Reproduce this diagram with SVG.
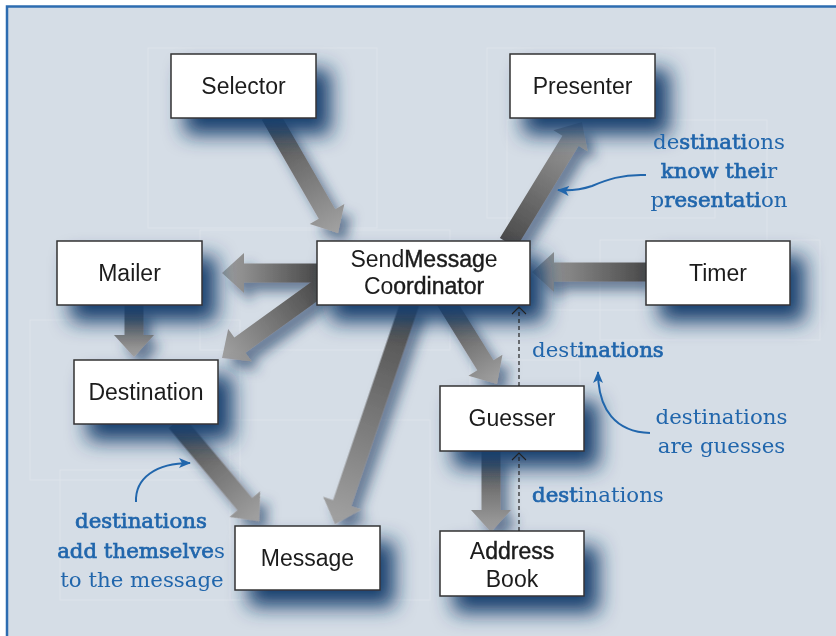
<svg xmlns="http://www.w3.org/2000/svg" width="836" height="636" viewBox="0 0 836 636">
<defs>
<style>
.box{fill:#fff;stroke:#333;stroke-width:1.5;filter:url(#bsh)}
.lbl{font-family:"Liberation Sans",Arial,sans-serif;font-size:23px;fill:#1c1c1c;text-anchor:middle}
.sb{stroke:#1c1c1c;stroke-width:0.45}
.ann{font-family:"DejaVu Serif","Liberation Serif",serif;font-size:21.3px;fill:#2166ac}
.ab{stroke:#2166ac;stroke-width:0.7}
.blk{fill:url(#ag)}
.dash{fill:none;stroke:#222;stroke-width:1.2;stroke-dasharray:4 3}
.chev{fill:none;stroke:#222;stroke-width:1.1}
.curve{fill:none;stroke:#2166ac;stroke-width:2;marker-end:url(#bh)}
.grid{fill:none;stroke:#e1e6ec;stroke-width:1;opacity:0.7}
</style>
<linearGradient id="ag" x1="0" y1="0" x2="1" y2="0">
<stop offset="0" stop-color="#4a4a4a"/>
<stop offset="1" stop-color="#a2a2a2"/>
</linearGradient>
<filter id="bsh" x="-40%" y="-60%" width="200%" height="260%">
<feGaussianBlur in="SourceAlpha" stdDeviation="10"/>
<feOffset dx="14" dy="16" result="b"/>
<feFlood flood-color="#18406e" flood-opacity="1"/>
<feComposite in2="b" operator="in"/>
<feMerge><feMergeNode/><feMergeNode in="SourceGraphic"/></feMerge>
</filter>
<filter id="ash" x="-20%" y="-20%" width="140%" height="140%">
<feGaussianBlur in="SourceAlpha" stdDeviation="6"/>
<feOffset dx="8" dy="9" result="b"/>
<feFlood flood-color="#1d3c62" flood-opacity="0.6"/>
<feComposite in2="b" operator="in"/>
<feMerge><feMergeNode/><feMergeNode in="SourceGraphic"/></feMerge>
</filter>
<marker id="bh" markerUnits="userSpaceOnUse" markerWidth="14" markerHeight="12" refX="11" refY="5" orient="auto">
<path d="M0,0 L12,5 L0,10 L3,5 Z" fill="#2166ac"/>
</marker>
</defs>

<rect x="7" y="6.5" width="840" height="640" fill="#d5dde6" stroke="#2d6cb0" stroke-width="2.5"/>

<g id="background-grid">
<rect class="grid" x="148" y="48" width="229" height="180"/>
<rect class="grid" x="487" y="48" width="228" height="170"/>
<rect class="grid" x="507" y="120" width="260" height="190"/>
<rect class="grid" x="30" y="320" width="210" height="160"/>
<rect class="grid" x="200" y="230" width="250" height="120"/>
<rect class="grid" x="60" y="470" width="180" height="130"/>
<rect class="grid" x="470" y="360" width="110" height="100"/>
<rect class="grid" x="230" y="420" width="200" height="180"/>
<rect class="grid" x="600" y="240" width="220" height="100"/>
</g>

<g id="connectors" filter="url(#ash)">
<polygon class="blk" transform="translate(270,115) rotate(60.04)" points="0,-9.5 114.2,-9.5 114.2,-20 136.2,0 114.2,20 114.2,9.5 0,9.5"/>
<polygon class="blk" transform="translate(508,243) rotate(-58.55)" points="0,-9.5 119.8,-9.5 119.8,-20 141.8,0 119.8,20 119.8,9.5 0,9.5"/>
<polygon class="blk" transform="translate(646,272) rotate(180)" points="0,-9.5 92,-9.5 92,-20 114,0 92,20 92,9.5 0,9.5"/>
<polygon class="blk" transform="translate(317,273) rotate(180)" points="0,-9.5 73,-9.5 73,-20 95,0 73,20 73,9.5 0,9.5"/>
<polygon class="blk" transform="translate(322,286) rotate(144.25)" points="0,-9.5 101.2,-9.5 101.2,-20 123.2,0 101.2,20 101.2,9.5 0,9.5"/>
<polygon class="blk" transform="translate(134,305) rotate(90)" points="0,-9.5 30,-9.5 30,-20 52,0 30,20 30,9.5 0,9.5"/>
<polygon class="blk" transform="translate(410,303) rotate(108.74)" points="0,-9.5 211.4,-9.5 211.4,-20 233.4,0 211.4,20 211.4,9.5 0,9.5"/>
<polygon class="blk" transform="translate(445,300) rotate(58.24)" points="0,-9.5 76.8,-9.5 76.8,-20 98.8,0 76.8,20 76.8,9.5 0,9.5"/>
<polygon class="blk" transform="translate(176,422) rotate(50.03)" points="0,-9.5 107.2,-9.5 107.2,-20 129.2,0 107.2,20 107.2,9.5 0,9.5"/>
<polygon class="blk" transform="translate(491,451) rotate(90)" points="0,-9.5 59,-9.5 59,-20 81,0 59,20 59,9.5 0,9.5"/>
</g>

<g id="selector"><rect class="box" x="171" y="54" width="145" height="64"/><text class="lbl" x="243.5" y="94">Selector</text></g>
<g id="presenter"><rect class="box" x="510" y="54" width="145" height="64"/><text class="lbl" x="582.5" y="94">Presenter</text></g>
<g id="coordinator"><rect class="box" x="317" y="241" width="213" height="64"/><text class="lbl" x="424" y="267">Send<tspan class="sb">Messag</tspan>e</text><text class="lbl" x="424" y="294">Co<tspan class="sb">ordinator</tspan></text></g>
<g id="mailer"><rect class="box" x="57" y="241" width="145" height="64"/><text class="lbl" x="129.5" y="281">Mailer</text></g>
<g id="timer"><rect class="box" x="646" y="241" width="144" height="64"/><text class="lbl" x="718" y="281">Timer</text></g>
<g id="destination"><rect class="box" x="74" y="360" width="144" height="64"/><text class="lbl" x="146" y="400">Destination</text></g>
<g id="guesser"><rect class="box" x="440" y="386" width="144" height="65"/><text class="lbl" x="512" y="426">Guesser</text></g>
<g id="message"><rect class="box" x="235" y="526" width="145" height="64"/><text class="lbl" x="307.5" y="566">Message</text></g>
<g id="addressbook"><rect class="box" x="440" y="531" width="144" height="65"/><text class="lbl" x="512" y="559">A<tspan class="sb">ddress</tspan></text><text class="lbl" x="512" y="587">Book</text></g>

<g id="connectors-dashed">
<line class="dash" x1="519" y1="531" x2="519" y2="454"/>
<path class="chev" d="M512,460 L519,453 L526,460"/>
<line class="dash" x1="519" y1="386" x2="519" y2="308"/>
<path class="chev" d="M512,314 L519,307 L526,314"/>
</g>

<g id="annotations">
<path class="curve" d="M646,175 C622,174 606,180 592,186 C580,190 570,191 558,190"/>
<path class="curve" d="M650,433 C616,432 598,410 598,372"/>
<path class="curve" d="M136,502 C135,478 156,463 190,463"/>
<text class="ann" x="719" y="149" text-anchor="middle">de<tspan class="ab">stinati</tspan>ons</text>
<text class="ann" x="719" y="178" text-anchor="middle"><tspan class="ab">know thei</tspan>r</text>
<text class="ann" x="719" y="207" text-anchor="middle">p<tspan class="ab">resentati</tspan>on</text>
<text class="ann" x="532" y="357">dest<tspan class="ab">inations</tspan></text>
<text class="ann" x="721.5" y="424" text-anchor="middle">destinations</text>
<text class="ann" x="721.5" y="453" text-anchor="middle">are guesses</text>
<text class="ann" x="532" y="502"><tspan class="ab">dest</tspan>inations</text>
<text class="ann" x="141" y="528" text-anchor="middle"><tspan class="ab">destinations</tspan></text>
<text class="ann" x="141" y="558" text-anchor="middle"><tspan class="ab">add themselve</tspan>s</text>
<text class="ann" x="142" y="587" text-anchor="middle">to the message</text>
</g>
</svg>
